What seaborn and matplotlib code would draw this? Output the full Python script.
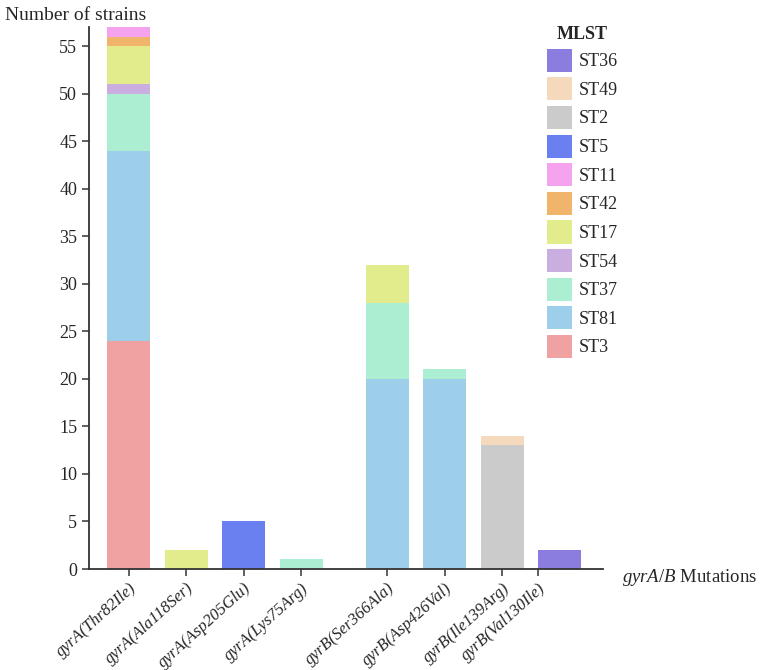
import numpy as np
import pandas as pd
import seaborn as sns
import matplotlib.pyplot as plt
from matplotlib.patches import Patch

# mutations on the x axis, gyrA first then gyrB
mutations = ["gyrA(Thr82Ile)", "gyrA(Ala118Ser)", "gyrA(Asp205Glu)", "gyrA(Lys75Arg)",
             "gyrB(Ser366Ala)", "gyrB(Asp426Val)", "gyrB(Ile139Arg)", "gyrB(Val130Ile)"]
gene = ["A", "A", "A", "A", "B", "B", "B", "B"]

# MLST types, bottom of the stack first
st_types = ["ST3", "ST81", "ST37", "ST54", "ST17", "ST42", "ST11", "ST5", "ST2", "ST49", "ST36"]
st_colors = ["#f0a2a2", "#9dcfea", "#abeed2", "#c9aedf", "#e2ec8c", "#f0b56a",
             "#f5a3ef", "#6a7ff0", "#cbcbcb", "#f5d9bc", "#8a7ddf"]

# number of strains per mutation, one list per MLST
counts = {
    "ST3":  [24, 0, 0, 0, 0, 0, 0, 0],
    "ST81": [20, 0, 0, 0, 20, 20, 0, 0],
    "ST37": [6, 0, 0, 1, 8, 1, 0, 0],
    "ST54": [1, 0, 0, 0, 0, 0, 0, 0],
    "ST17": [4, 2, 0, 0, 4, 0, 0, 0],
    "ST42": [1, 0, 0, 0, 0, 0, 0, 0],
    "ST11": [1, 0, 0, 0, 0, 0, 0, 0],
    "ST5":  [0, 0, 5, 0, 0, 0, 0, 0],
    "ST2":  [0, 0, 0, 0, 0, 0, 13, 0],
    "ST49": [0, 0, 0, 0, 0, 0, 1, 0],
    "ST36": [0, 0, 0, 0, 0, 0, 0, 2],
}

sns.set_theme(style="ticks")
plt.rcParams["font.family"] = ["Liberation Serif", "DejaVu Serif"]
plt.rcParams["mathtext.fontset"] = "custom"
plt.rcParams["mathtext.it"] = "Liberation Serif:italic"
plt.rcParams["mathtext.rm"] = "Liberation Serif"

# bar positions: small gap between the gyrA and gyrB groups
xpos = np.arange(len(mutations)) + np.where(np.array(gene) == "B", 0.5, 0.0)
bar_w = 0.75

df = pd.DataFrame(counts, index=mutations)
cum = df[st_types].cumsum(axis=1)

fig = plt.figure(figsize=(7.67, 6.70), dpi=100)
ax = fig.add_axes([89/767, 101/670, 514/767, 542/670])

# draw cumulative totals from the top layer down so lower layers sit on top
for st, col in reversed(list(zip(st_types, st_colors))):
    sns.barplot(x=xpos, y=cum[st].values, color=col, native_scale=True,
                width=bar_w, errorbar=None, saturation=1, ax=ax, linewidth=0)

ax.set_ylim(0, 57)
ax.set_xlim(-0.69, 8.25)
ax.set_yticks(range(0, 56, 5))
ticks = xpos.copy()
ticks[-1] = ticks[-1] - bar_w / 2
ax.set_xticks(ticks)
ax.set_xticklabels(mutations, rotation=42, ha="right", rotation_mode="anchor",
                   fontstyle="italic", fontsize=12)
ax.tick_params(axis="y", labelsize=13, length=5, width=1.2, color="#444444")
ax.tick_params(axis="x", length=5, width=1.2, color="#444444", pad=3)
for s in ["left", "bottom"]:
    ax.spines[s].set_linewidth(1.3)
    ax.spines[s].set_color("#333333")
sns.despine(ax=ax)
ax.set_xlabel("")
ax.set_ylabel("")

fig.text(5/767, 1 - 16/670, "Number of strains", fontsize=14, va="center", ha="left")
fig.text(622/767, 1 - 578/670, r"$\mathit{gyrA/B}$ Mutations", fontsize=13.5,
         va="center", ha="left")

handles = [Patch(facecolor=c, edgecolor="none", label=s)
           for s, c in zip(st_types[::-1], st_colors[::-1])]
leg = fig.legend(handles=handles, title="MLST", loc="upper left",
                 bbox_to_anchor=(531/767, 1 - 10/670), frameon=False,
                 fontsize=13, handlelength=1.35, handleheight=1.6,
                 labelspacing=0.3, handletextpad=0.4)
leg.get_title().set_fontweight("bold")
leg.get_title().set_fontsize(13)

fig.savefig("out.png", dpi=100)
